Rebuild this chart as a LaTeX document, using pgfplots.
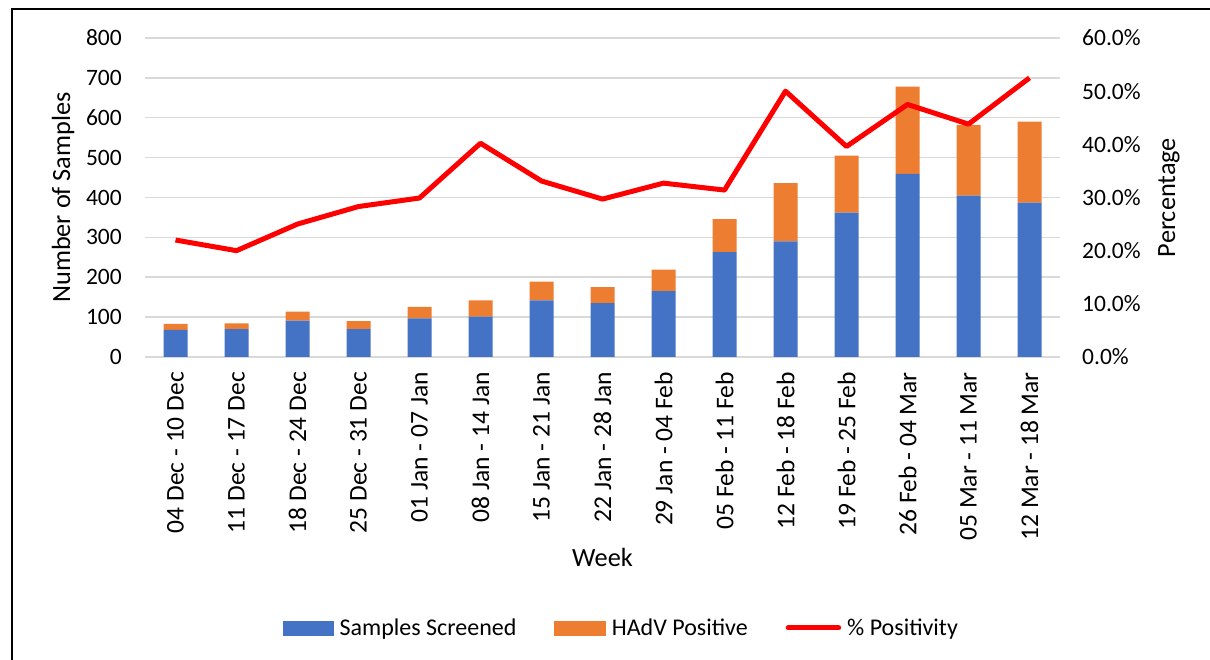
\documentclass[border=0pt]{standalone}
\usepackage{fontspec}
\setmainfont{Carlito}
\usepackage{pgfplots}
\pgfplotsset{compat=1.18}
\definecolor{cblue}{HTML}{4472C4}
\definecolor{corange}{HTML}{ED7D31}
\definecolor{cgrid}{HTML}{D9D9D9}
\definecolor{cred}{HTML}{FF0000}
\newcommand{\fs}{\fontsize{23.5}{28}\selectfont}
\newcommand{\fx}{\fontsize{25.5}{30}\selectfont}
\newcommand{\ft}{\fontsize{26.3}{31}\selectfont}
\newcommand{\fl}{\fontsize{24}{29}\selectfont}
\pgfplotsset{
  common/.style={
    at={(145pt,303pt)}, anchor=south west, scale only axis,
    width=915pt, height=319pt,
    xmin=-0.5, xmax=14.5,
    axis line style={draw=none}, major tick length=0pt,
    /pgf/number format/assume math mode=true,
  }
}
\begin{document}
\begin{tikzpicture}[font=\fs]
\useasboundingbox (0,0) rectangle (1210pt,660pt);
\draw[line width=2pt] (12pt,-2pt) -- (12pt,650.5pt) -- (1212pt,650.5pt);
\begin{axis}[common,
  ymin=0, ymax=800, ytick={0,100,...,800},
  ymajorgrids, grid style={cgrid, line width=1.5pt},
  xtick={0,...,14},
  xticklabels={04 Dec - 10 Dec, 11 Dec - 17 Dec, 18 Dec - 24 Dec, 25 Dec - 31 Dec, 01 Jan - 07 Jan, 08 Jan - 14 Jan, 15 Jan - 21 Jan, 22 Jan - 28 Jan, 29 Jan - 04 Feb, 05 Feb - 11 Feb, 12 Feb - 18 Feb, 19 Feb - 25 Feb, 26 Feb - 04 Mar, 05 Mar - 11 Mar, 12 Mar - 18 Mar},
  xticklabel style={rotate=90, anchor=east, inner sep=0pt, font=\fx},
  xticklabel shift=15pt,
  yticklabel style={anchor=east, inner sep=0pt},
  yticklabel shift=23pt,
  ytick pos=left, xtick pos=bottom,
  ybar stacked, bar width=24pt,
  ylabel={Number of Samples},
  ylabel style={at={(axis description cs:-0.0896,0.5)}, anchor=center, rotate=0, font=\ft},
  xlabel={Week},
  xlabel style={at={(axis description cs:0.5,-0.627)}, anchor=center, font=\ft},
]
\addplot[fill=cblue, draw=none] coordinates {
(0,68) (1,70) (2,91) (3,70) (4,97) (5,101) (6,142) (7,135) (8,165) (9,263) (10,290) (11,362) (12,459) (13,405) (14,387)};
\addplot[fill=corange, draw=none] coordinates {
(0,15) (1,14) (2,23) (3,20) (4,29) (5,41) (6,47) (7,40) (8,54) (9,83) (10,146) (11,143) (12,219) (13,177) (14,203)};
\end{axis}
\begin{axis}[common,
  ymin=0, ymax=60, ytick={0,10,...,60},
  yticklabels={0.0\%,10.0\%,20.0\%,30.0\%,40.0\%,50.0\%,60.0\%},
  yticklabel pos=right, hide x axis,
  yticklabel style={anchor=west, inner sep=0pt},
  yticklabel shift=22pt,
  ylabel={Percentage},
  ylabel style={at={(axis description cs:1.119,0.5)}, anchor=center, rotate=0, font=\ft},
  legend columns=3,
  legend cell align=left,
  legend style={at={(axis description cs:0.1508,-0.8495)}, anchor=west, draw=none, fill=none, inner sep=0pt,
    font=\fl,
    nodes={inner sep=0pt},
    /tikz/every odd column/.append style={column sep=6pt},
    /tikz/every even column/.append style={column sep=38pt}},
]
\addlegendimage{legend image code/.code={\fill[cblue] (0pt,-7pt) rectangle (50pt,7pt);}}
\addlegendentry{Samples Screened}
\addlegendimage{legend image code/.code={\fill[corange] (0pt,-7pt) rectangle (51pt,7pt);}}
\addlegendentry{HAdV Positive}
\addplot[cred, line width=5pt, line join=round, mark=none,
  legend image code/.code={\draw[cred, line width=5pt, line cap=round] (2.5pt,0pt) -- (53pt,0pt);}]
  coordinates {
(0,22.0) (1,20.0) (2,25.0) (3,28.3) (4,29.9) (5,40.2) (6,33.1) (7,29.7) (8,32.7) (9,31.4) (10,50.0) (11,39.6) (12,47.5) (13,43.8) (14,52.5)};
\addlegendentry{\% Positivity}
\end{axis}
\end{tikzpicture}
\end{document}
